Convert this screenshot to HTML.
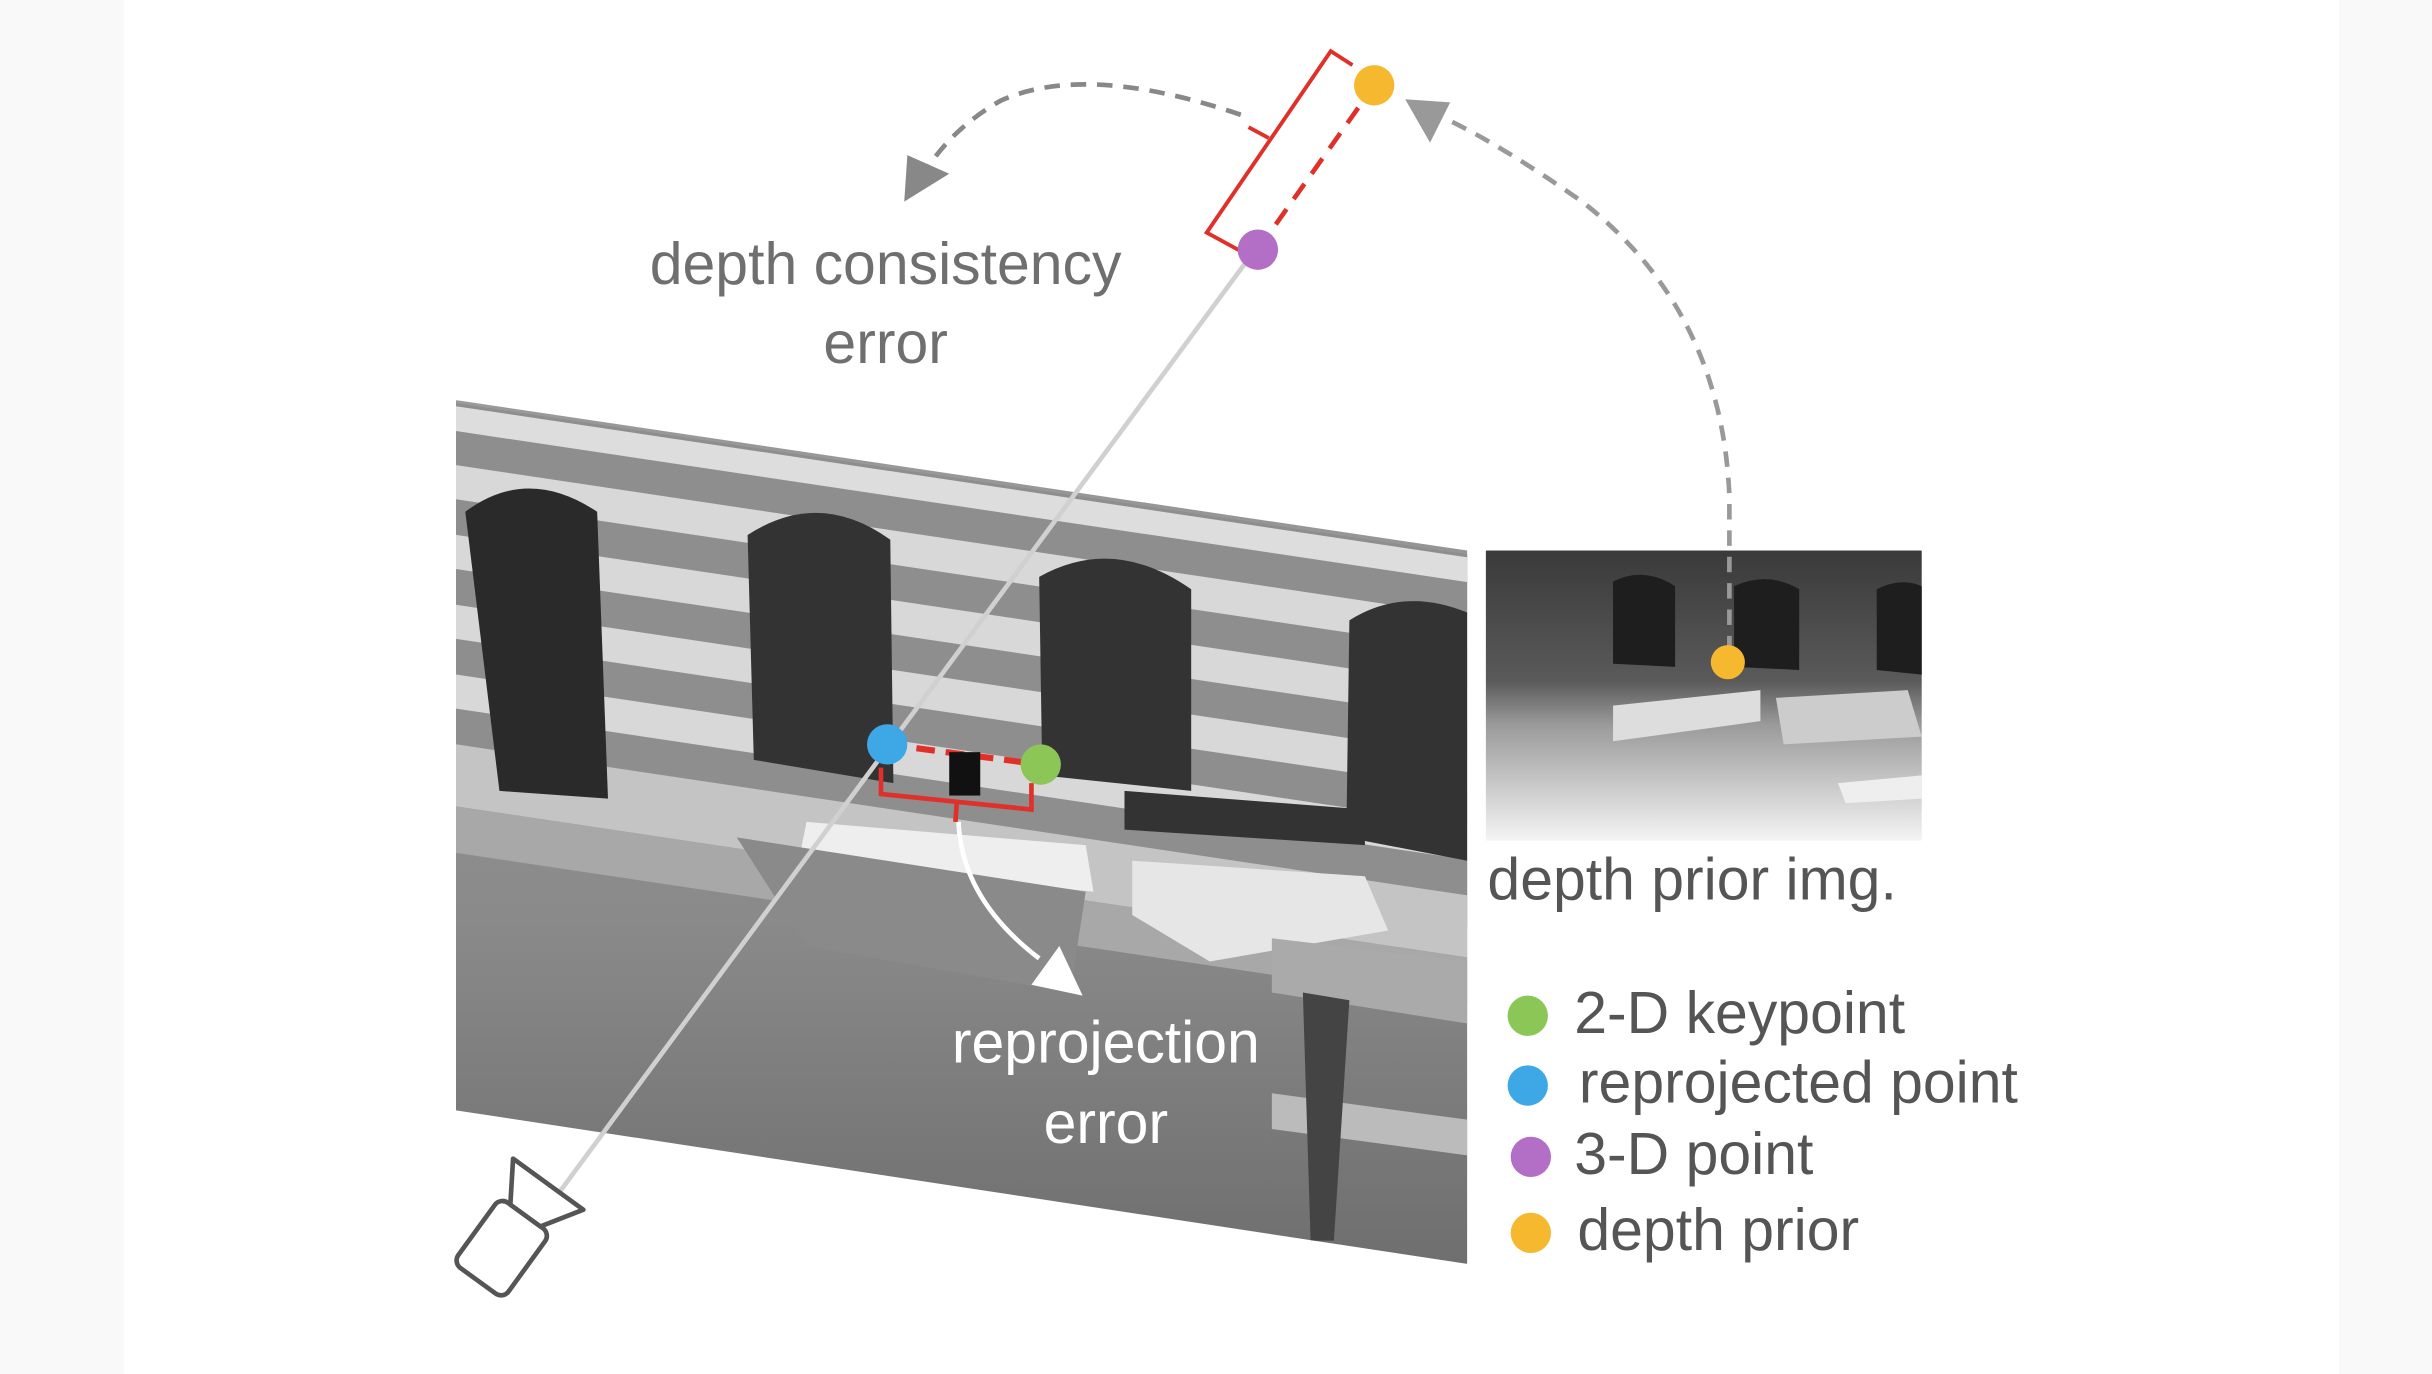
<!DOCTYPE html>
<html><head><meta charset="utf-8"><style>
html,body{margin:0;padding:0;background:#fff}
svg{display:block}
text{font-family:"Liberation Sans","DejaVu Sans",sans-serif}
</style></head><body>
<svg width="2432" height="1374" viewBox="0 0 1568 886" preserveAspectRatio="none" xmlns="http://www.w3.org/2000/svg">
<defs>
<linearGradient id="dg" x1="0" y1="0" x2="0" y2="1">
<stop offset="0" stop-color="#3a3a3a"/><stop offset="0.45" stop-color="#5a5a5a"/><stop offset="0.6" stop-color="#9a9a9a"/><stop offset="1" stop-color="#f4f4f4"/>
</linearGradient>
<linearGradient id="gr" x1="0" y1="0" x2="0" y2="1">
<stop offset="0" stop-color="#9a9a9a"/><stop offset="0.6" stop-color="#8a8a8a"/><stop offset="1" stop-color="#6e6e6e"/>
</linearGradient>
<clipPath id="ph"><polygon points="294,258 946,355 946,815 294,716"/></clipPath>
</defs>
<rect x="0" y="0" width="80" height="886" fill="#f9f9f9"/>
<rect x="1508" y="0" width="60" height="886" fill="#f9f9f9"/>
<g clip-path="url(#ph)">
<rect x="290" y="250" width="660" height="570" fill="url(#gr)"/>
<g transform="skewY(8.5) translate(0,-44)">
<rect x="294" y="260" width="660" height="240" fill="#8e8e8e"/>
<rect x="294" y="262" width="660" height="16" fill="#ddd"/>
<rect x="294" y="300" width="660" height="22" fill="#d8d8d8"/>
<rect x="294" y="345" width="660" height="22" fill="#d8d8d8"/>
<rect x="294" y="390" width="660" height="22" fill="#d8d8d8"/>
<rect x="294" y="435" width="660" height="22" fill="#d8d8d8"/>
<rect x="294" y="480" width="660" height="40" fill="#c4c4c4"/>
<rect x="294" y="520" width="660" height="30" fill="#a8a8a8"/>
</g>
<path d="M300,330 Q340,300 385,330 L392,515 L322,510 Z" fill="#2a2a2a"/>
<path d="M482,345 Q528,315 574,348 L576,505 L486,490 Z" fill="#333"/>
<path d="M670,372 Q718,345 768,380 L768,510 L672,500 Z" fill="#333"/>
<path d="M870,400 Q905,378 946,395 L946,555 L868,540 Z" fill="#333"/>
<polygon points="520,530 700,545 705,575 515,555" fill="#eee"/>
<polygon points="475,540 700,575 690,640 520,610" fill="#8a8a8a"/>
<polygon points="730,555 880,565 895,600 780,620 730,590" fill="#e6e6e6"/>
<polygon points="725,510 880,522 880,545 725,535" fill="#333"/>
<polygon points="820,605 946,620 946,660 820,640" fill="#aaa"/>
<polygon points="820,705 946,722 946,745 820,728" fill="#bbb"/>
<polygon points="840,640 870,645 860,800 845,800" fill="#444"/>
</g>
<rect x="958" y="355" width="281" height="187" fill="url(#dg)"/>
<path d="M1040,375 Q1060,365 1080,378 L1080,430 L1040,428 Z" fill="#1e1e1e"/>
<path d="M1118,378 Q1140,368 1160,380 L1160,432 L1118,430 Z" fill="#1e1e1e"/>
<path d="M1210,380 Q1225,372 1239,378 L1239,435 L1210,432 Z" fill="#1e1e1e"/>
<polygon points="1040,455 1135,445 1135,465 1040,478" fill="#ddd"/>
<polygon points="1145,450 1230,445 1239,475 1150,480" fill="#ccc"/>
<polygon points="1185,505 1239,500 1239,515 1190,518" fill="#eee"/>
<line x1="345" y1="790" x2="810" y2="160" stroke="#d0d0d0" stroke-width="3"/>
<line x1="811" y1="161" x2="886" y2="55" stroke="#e0302a" stroke-width="3" stroke-dasharray="12,8"/>
<path d="M800,162 L778,150 L858,33 L872,42" fill="none" stroke="#e0302a" stroke-width="2.5"/>
<path d="M818,89 L805,82" stroke="#e0302a" stroke-width="2.5"/>
<path d="M800,74 Q700,40 645,65 Q610,85 592,118" fill="none" stroke="#888" stroke-width="3" stroke-dasharray="10,7"/>
<polygon points="583,130 585,100 612,112" fill="#888"/>
<path d="M1115,420 L1115,320 Q1110,200 1020,130 Q970,95 935,78" fill="none" stroke="#999" stroke-width="3" stroke-dasharray="10,7"/>
<polygon points="906,64 935,66 922,92" fill="#999"/>
<line x1="572" y1="480" x2="671" y2="493" stroke="#e0302a" stroke-width="4" stroke-dasharray="12,7"/>
<path d="M568,495 L568,512 L665,522 L665,505" fill="none" stroke="#e0302a" stroke-width="3"/>
<line x1="617" y1="516" x2="616" y2="530" stroke="#e0302a" stroke-width="3"/>
<rect x="612" y="485" width="20" height="28" fill="#111"/>
<path d="M618,530 Q620,580 670,618" fill="none" stroke="#fff" stroke-width="3"/>
<polygon points="698,642 665,635 683,610" fill="#fff"/>
<circle cx="811" cy="161" r="13" fill="#b36fc6"/>
<circle cx="886" cy="55" r="13" fill="#f5b82e"/>
<circle cx="572" cy="480" r="13" fill="#3ea8e6"/>
<circle cx="671" cy="493" r="13" fill="#8cc656"/>
<circle cx="1114" cy="427" r="11" fill="#f5b82e"/>
<g transform="translate(327,800) rotate(-54)" fill="#fff" stroke="#555" stroke-width="3" stroke-linejoin="round">
<rect x="-32" y="-20" width="52" height="40" rx="6"/>
<polygon points="20,-12 45,-28 45,28 20,12"/>
</g>
<g font-size="38" fill="#6f6f6f" text-anchor="middle">
<text x="571" y="183">depth consistency</text>
<text x="571" y="234">error</text>
</g>
<g font-size="38" fill="#fff" text-anchor="middle">
<text x="713" y="685">reprojection</text>
<text x="713" y="737">error</text>
</g>
<text x="959" y="580" font-size="38" fill="#555">depth prior img.</text>
<circle cx="985" cy="655" r="13" fill="#8cc656"/>
<circle cx="985" cy="700" r="13" fill="#3ea8e6"/>
<circle cx="987" cy="746" r="13" fill="#b36fc6"/>
<circle cx="987" cy="795" r="13" fill="#f5b82e"/>
<g font-size="38" fill="#555">
<text x="1015" y="666">2-D keypoint</text>
<text x="1018" y="711">reprojected point</text>
<text x="1015" y="757">3-D point</text>
<text x="1017" y="806">depth prior</text>
</g>
</svg>
</body></html>
